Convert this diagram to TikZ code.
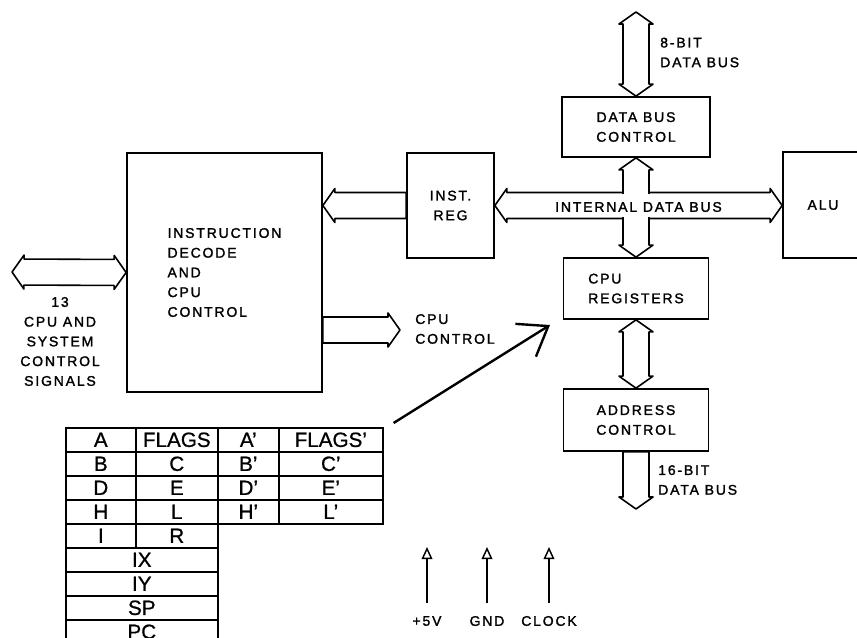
\documentclass[tikz,border=0pt]{standalone}
\usepackage{fontspec}
\usepackage{tikz}
\usetikzlibrary{arrows.meta,calc}
\newfontfamily\lblfont[LetterSpace=13,FakeBold=1.6]{Liberation Sans}
\newfontfamily\tabfont[FakeBold=0.8]{Liberation Sans}
\newdimen\pxu \pxu=0.75pt
% bus arrow sizes: head length, head half width, shaft half width
\newcommand{\bhl}{9pt}
\newcommand{\bhw}{12.75pt}
\newcommand{\bsw}{9.75pt}
\newcommand{\busboth}[2]{%
  \coordinate (bsA) at ($(#1)!\bhl!(#2)$);
  \coordinate (bsB) at ($(#2)!\bhl!(#1)$);
  \draw[bus] (#1) -- ($(bsA)!\bhw!90:(#2)$) -- ($(bsA)!\bsw!90:(#2)$)
    -- ($(bsB)!\bsw!-90:(#1)$) -- ($(bsB)!\bhw!-90:(#1)$) -- (#2)
    -- ($(bsB)!\bhw!90:(#1)$) -- ($(bsB)!\bsw!90:(#1)$)
    -- ($(bsA)!\bsw!-90:(#2)$) -- ($(bsA)!\bhw!-90:(#2)$) -- cycle;}
\newcommand{\busone}[2]{%
  \coordinate (bsB) at ($(#2)!\bhl!(#1)$);
  \draw[bus] ($(#1)!\bsw!90:(#2)$) -- ($(bsB)!\bsw!-90:(#1)$)
    -- ($(bsB)!\bhw!-90:(#1)$) -- (#2) -- ($(bsB)!\bhw!90:(#1)$)
    -- ($(bsB)!\bsw!90:(#1)$) -- ($(#1)!\bsw!-90:(#2)$) -- cycle;}

\begin{document}
\begin{tikzpicture}[
    x=0.75pt, y=-0.75pt,
    every node/.style={font=\lblfont\fontsize{10.5}{14.8}\selectfont},
    blk/.style={draw, line width=1.3pt, inner sep=0pt, align=center},
    bus/.style={draw, line width=1.2pt, fill=white, line join=round},
    cell/.style={draw, line width=1.2pt, anchor=north west, inner sep=0pt,
                 minimum height=24\pxu, font=\tabfont\fontsize{15.5}{16}\selectfont},
    pwr/.style={-{Triangle[open, length=9pt, width=8pt]}, line width=1.1pt,
                shorten <=6pt},
    ptr/.style={-{Straight Barb[length=20pt, width=29pt]}, line width=1.8pt},
    lbl/.style={align=left, inner sep=0pt},
  ]
  \useasboundingbox (0,0) rectangle (857,638);
  \clip (0,0) rectangle (857,638);

  % blocks
  \node[blk, align=left, minimum width=195\pxu, minimum height=239\pxu] (idc) at (224.5,272.5)
    {INSTRUCTION\\DECODE\\AND\\CPU\\CONTROL};
  \node[blk, minimum width=87\pxu, minimum height=105\pxu] (ireg) at (450.5,205.5) {INST.\\REG};
  \node[blk, minimum width=148\pxu, minimum height=60\pxu] (dbc) at (636,127) {DATA BUS\\CONTROL};
  \node[blk, align=left, minimum width=145\pxu, minimum height=61\pxu] (regs) at (636,288.5) {CPU\\REGISTERS};
  \node[blk, minimum width=145\pxu, minimum height=62\pxu] (addr) at (636,420) {ADDRESS\\CONTROL};
  \node[blk, minimum width=80\pxu, minimum height=106\pxu] (alu) at (823,205) {ALU};

  % bus end points
  \coordinate (sig) at (12,272);
  \coordinate (d8) at (636,12);
  \coordinate (a16) at (636,509);
  \coordinate (cc) at (400,330);
  \coordinate (cc0) at (idc.east |- cc);
  \coordinate (ii) at (idc.east |- ireg.west);
  \coordinate (aluin) at (alu.west |- ireg.east);
  \coordinate (xc) at (dbc.south |- ireg.east);

  \busboth{sig}{idc.west}
  \busone{ireg.west}{ii}
  \busone{cc0}{cc}
  \busboth{d8}{dbc.north}
  \busboth{ireg.east}{aluin}
  \busboth{dbc.south}{regs.north}
  \busboth{regs.south}{addr.north}
  \busone{addr.south}{a16}
  % open up the crossing
  \fill[white] ($(xc)+(-11.5,-14.3)$) rectangle ($(xc)+(11.5,14.3)$);
  \fill[white] ($(xc)+(-14.3,-11.5)$) rectangle ($(xc)+(14.3,11.5)$);

  % bus labels
  \node (ibtxt) at (638.5,207) {INTERNAL DATA BUS};
  \node[align=center] (sigtxt) at (60,341.5) {13\\CPU AND\\SYSTEM\\CONTROL\\SIGNALS};
  \node[lbl, anchor=west] (d8txt) at (660,52.5) {8-BIT\\DATA BUS};
  \node[lbl, anchor=west] (a16txt) at (658,480) {16-BIT\\DATA BUS};
  \node[lbl, anchor=west] (cctxt) at (415,329) {CPU\\CONTROL};

  % register file
  \foreach \ca/\cb/\cc/\cd [count=\r from 0] in
      {A/FLAGS/A’/FLAGS’, B/C/B’/C’, D/E/D’/E’, H/L/H’/L’} {
    \node[cell, minimum width=70\pxu]  (ta\r) at (65,427+24*\r)  {\ca};
    \node[cell, minimum width=82\pxu]  (tb\r) at (135,427+24*\r) {\cb};
    \node[cell, minimum width=61\pxu]  (tc\r) at (217,427+24*\r) {\cc};
    \node[cell, minimum width=104\pxu] (td\r) at (278,427+24*\r) {\cd};
  }
  \node[cell, minimum width=70\pxu] (ti) at (65,523)  {I};
  \node[cell, minimum width=82\pxu] (tr) at (135,523) {R};
  \foreach \w [count=\r from 0] in {IX, IY, SP, PC}
    \node[cell, minimum width=152\pxu] (tw\r) at (65,547+24*\r) {\w};

  \coordinate (regtip) at (550,325);
  \draw[ptr] ($(td0.north east)+(10,-4)$) -- (regtip);

  % supply pins
  \node (p5) at (427,621) {+5V};
  \node (gnd) at (487,621) {GND};
  \node (clk) at (549,621) {CLOCK};
  \coordinate (p5t) at (427,547);
  \coordinate (gndt) at (487,547);
  \coordinate (clkt) at (549,547);
  \draw[pwr] (p5) -- (p5t);
  \draw[pwr] (gnd) -- (gndt);
  \draw[pwr] (clk) -- (clkt);
\end{tikzpicture}
\end{document}
